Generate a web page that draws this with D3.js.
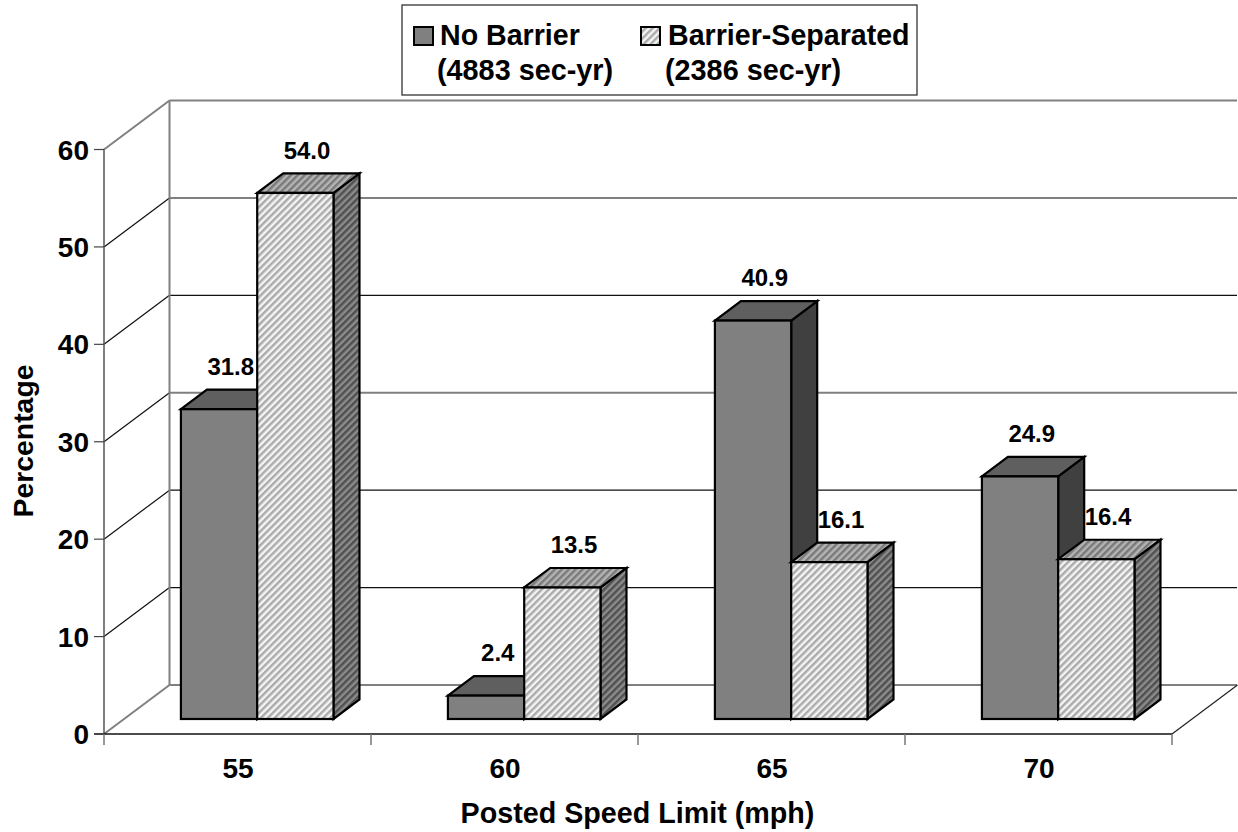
<!DOCTYPE html>
<html><head><meta charset="utf-8">
<script src="https://d3js.org/d3.v7.min.js"></script>
<style>html,body{margin:0;padding:0;background:#fff}svg{display:block}text{font-family:"Liberation Sans",Arial,sans-serif;font-weight:bold;fill:#000}</style>
</head><body><div id="c"></div>
<script>
const categories=["55","60","65","70"];
const seriesNames=["No Barrier","Barrier-Separated"];
const seriesSub=["(4883 sec-yr)","(2386 sec-yr)"];
const noBarrier=[31.8,2.4,40.9,24.9];
const barrierSeparated=[54.0,13.5,16.1,16.4];
const yTicks=[0,10,20,30,40,50,60];
const gridStyle=[1,0,0,1,0,1,1]; // 1 = heavier grey rendering
const W=1238,H=832;
const svg=d3.select("#c").append("svg").attr("width",W).attr("height",H);
const x=d3.scaleBand().domain(categories).range([104,1172]);
const y=d3.scaleLinear().domain([0,60]).range([734,149.5]);
const inner=d3.scaleBand().domain([0,1]).range([0,x.bandwidth()]).paddingInner(0).paddingOuter(0.75);
const dx=65.5,dy=-49;      // wall depth
const bdx=26,bdy=-19.5;    // bar depth
const ox=19.7,oy=-15;      // bar plane offset
const defs=svg.append("defs");
function hatch(id,bg,fg){
  const p=defs.append("pattern").attr("id",id).attr("patternUnits","userSpaceOnUse").attr("width",4.9).attr("height",4.9).attr("patternTransform","rotate(-45)");
  p.append("rect").attr("width",4.9).attr("height",4.9).attr("fill",bg);
  p.append("rect").attr("width",4.9).attr("height",2.45).attr("fill",fg);
}
hatch("hF","#f4f4f4","#ababab");
hatch("hT","#b4b4b4","#7a7a7a");
hatch("hS","#8c8c8c","#505050");
const g=svg.append("g");
// walls
yTicks.forEach((t,i)=>{
  const c=gridStyle[i]?"#808080":"#111", w=gridStyle[i]?2:1.2;
  g.append("line").attr("x1",104).attr("y1",y(t)).attr("x2",104+dx).attr("y2",y(t)+dy).attr("stroke",(t===0||t===60)?"#808080":"#111").attr("stroke-width",(t===0||t===60)?2:1.2);
  g.append("line").attr("x1",104+dx).attr("y1",y(t)+dy).attr("x2",W-1).attr("y2",y(t)+dy).attr("stroke",c).attr("stroke-width",w);
});
g.append("line").attr("x1",104+dx).attr("y1",y(0)+dy).attr("x2",104+dx).attr("y2",y(60)+dy).attr("stroke","#808080").attr("stroke-width",2);
g.append("line").attr("x1",1172).attr("y1",734).attr("x2",1172+dx).attr("y2",734+dy).attr("stroke","#222").attr("stroke-width",1.2);
// axes
g.append("line").attr("x1",104).attr("y1",y(0)).attr("x2",104).attr("y2",y(60)).attr("stroke","#555").attr("stroke-width",1.5);
g.append("line").attr("x1",94).attr("y1",734).attr("x2",1172).attr("y2",734).attr("stroke","#111").attr("stroke-width",1.3);
yTicks.forEach(t=>{
  g.append("line").attr("x1",94).attr("x2",104).attr("y1",y(t)).attr("y2",y(t)).attr("stroke","#444").attr("stroke-width",1.2);
  g.append("text").attr("x",89).attr("y",y(t)).attr("dy","0.36em").attr("text-anchor","end").attr("font-size",28).text(t);
});
[...categories.map(c=>x(c)),1172].forEach(v=>{
  g.append("line").attr("x1",v).attr("x2",v).attr("y1",734).attr("y2",745).attr("stroke","#777").attr("stroke-width",1.5);
});
categories.forEach(c=>{
  g.append("text").attr("x",x(c)+x.bandwidth()/2+0.5).attr("y",768).attr("dy","0.36em").attr("text-anchor","middle").attr("font-size",28).text(c);
});
g.append("text").attr("x",637.5).attr("y",823).attr("text-anchor","middle").attr("font-size",28.7).text("Posted Speed Limit (mph)");
g.append("text").attr("transform","translate(33,441) rotate(-90)").attr("text-anchor","middle").attr("font-size",28.4).text("Percentage");
// bars
const series=[
 {v:noBarrier,front:"#808080",top:"#5f5f5f",side:"#404040"},
 {v:barrierSeparated,front:"url(#hF)",top:"url(#hT)",side:"url(#hS)"}
];
const pts=a=>a.map(p=>p.join(",")).join(" ");
series.forEach((s,si)=>{
  categories.forEach((c,ci)=>{
    const v=s.v[ci];
    const x0=x(c)+inner(si)+ox,x1=x0+inner.bandwidth();
    const yb=y(0)+oy,yt=y(v)+oy;
    const b=g.append("g").attr("stroke","#000").attr("stroke-width",2.2).attr("stroke-linejoin","miter");
    b.append("polygon").attr("points",pts([[x1,yt],[x1+bdx,yt+bdy],[x1+bdx,yb+bdy],[x1,yb]])).attr("fill",s.side);
    b.append("polygon").attr("points",pts([[x0,yt],[x0+bdx,yt+bdy],[x1+bdx,yt+bdy],[x1,yt]])).attr("fill",s.top);
    b.append("rect").attr("x",x0).attr("y",yt).attr("width",x1-x0).attr("height",yb-yt).attr("fill",s.front);
  });
});
// value labels
series.forEach((s,si)=>{
  categories.forEach((c,ci)=>{
    const v=s.v[ci];
    const x0=x(c)+inner(si)+ox;
    g.append("text").attr("x",x0+inner.bandwidth()/2+ox-8).attr("y",y(v)+oy-43).attr("dy","0.36em").attr("text-anchor","middle").attr("font-size",24).text(v.toFixed(1));
  });
});
// legend
const L=svg.append("g");
L.append("rect").attr("x",402).attr("y",5).attr("width",515).attr("height",90).attr("fill","#fff").attr("stroke","#333").attr("stroke-width",1.3);
const swatchX=[414,641],nameX=[440,668],subX=[437,665];
series.forEach((s,i)=>{
  L.append("rect").attr("x",swatchX[i]).attr("y",27).attr("width",19).attr("height",18).attr("fill",s.front).attr("stroke","#000").attr("stroke-width",2);
  L.append("text").attr("x",nameX[i]).attr("y",45).attr("font-size",28.6).text(seriesNames[i]);
  L.append("text").attr("x",subX[i]).attr("y",80).attr("font-size",28.8).text(seriesSub[i]);
});
</script></body></html>
